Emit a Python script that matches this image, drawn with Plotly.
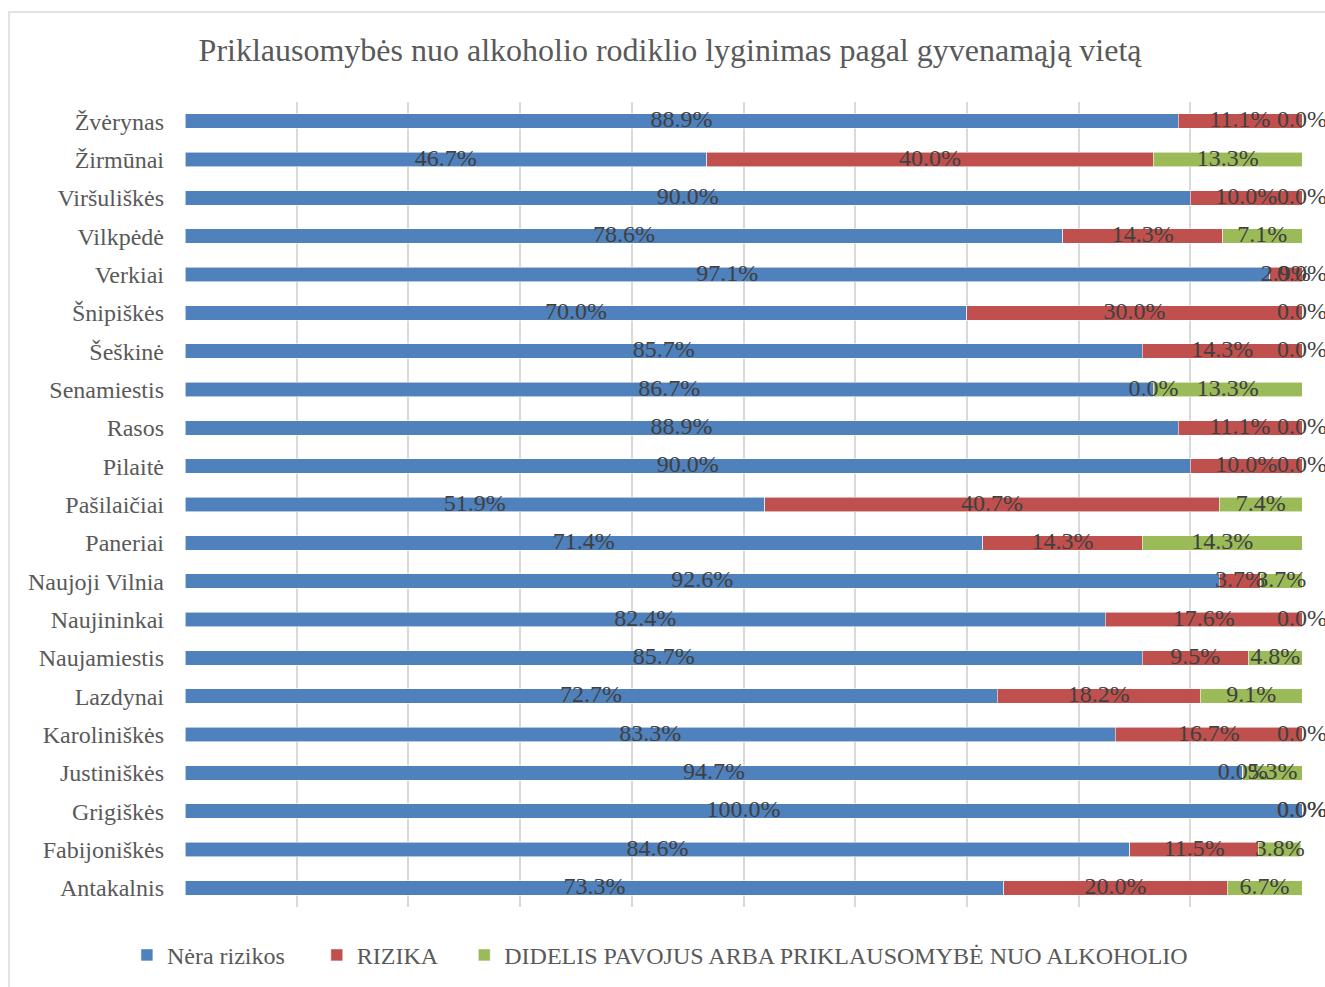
import plotly.graph_objects as go

categories = ["Žvėrynas", "Žirmūnai", "Viršuliškės", "Vilkpėdė", "Verkiai", "Šnipiškės",
              "Šeškinė", "Senamiestis", "Rasos", "Pilaitė", "Pašilaičiai", "Paneriai",
              "Naujoji Vilnia", "Naujininkai", "Naujamiestis", "Lazdynai", "Karoliniškės",
              "Justiniškės", "Grigiškės", "Fabijoniškės", "Antakalnis"]
nera_rizikos = [88.9, 46.7, 90.0, 78.6, 97.1, 70.0, 85.7, 86.7, 88.9, 90.0, 51.9, 71.4,
                92.6, 82.4, 85.7, 72.7, 83.3, 94.7, 100.0, 84.6, 73.3]
rizika = [11.1, 40.0, 10.0, 14.3, 2.9, 30.0, 14.3, 0.0, 11.1, 10.0, 40.7, 14.3,
          3.7, 17.6, 9.5, 18.2, 16.7, 0.0, 0.0, 11.5, 20.0]
didelis = [0.0, 13.3, 0.0, 7.1, 0.0, 0.0, 0.0, 13.3, 0.0, 0.0, 7.4, 14.3,
           3.7, 0.0, 4.8, 9.1, 0.0, 5.3, 0.0, 3.8, 6.7]
series_names = ["Nėra rizikos", "RIZIKA", "DIDELIS PAVOJUS ARBA PRIKLAUSOMYBĖ NUO ALKOHOLIO"]
title_text = "Priklausomybės nuo alkoholio rodiklio lyginimas pagal gyvenamąją vietą"

colors = ["#4F81BD", "#C0504D", "#9BBB59"]
FONT = "Liberation Serif, Times New Roman, serif"

series = [nera_rizikos, rizika, didelis]
legend_ids = ["legend", "legend2", "legend3"]
legend_x = [-0.052, 0.118, 0.250]

fig = go.Figure()
for name, vals, col, lid in zip(series_names, series, colors, legend_ids):
    fig.add_trace(go.Bar(
        y=categories, x=vals, orientation="h", name=name, legend=lid,
        marker=dict(color=col, line=dict(color="rgba(255,255,255,0.7)", width=0.8)),
        hoverinfo="skip",
    ))

base = [0.0] * len(categories)
for vals in series:
    centers = [b + v / 2 for b, v in zip(base, vals)]
    fig.add_trace(go.Scatter(
        x=centers, y=categories, mode="text",
        text=[f"{v:.1f}%" for v in vals],
        textposition="middle center",
        textfont=dict(family=FONT, size=24, color="#404040"),
        cliponaxis=False, showlegend=False, hoverinfo="skip",
    ))
    base = [b + v for b, v in zip(base, vals)]

legend_common = dict(orientation="h", xanchor="left", y=-0.060, yanchor="middle",
                     font=dict(family=FONT, size=24, color="#595959"),
                     bgcolor="rgba(0,0,0,0)")

fig.update_layout(
    barmode="stack",
    bargap=0.62,
    width=1325, height=987,
    margin=dict(l=185, r=23, t=102, b=80, autoexpand=False),
    paper_bgcolor="white",
    plot_bgcolor="white",
    font=dict(family=FONT, color="#595959", size=24),
    title=dict(text=title_text, x=0.5057, xref="container", xanchor="center",
               y=1 - 50 / 987, yref="container", yanchor="middle",
               font=dict(family=FONT, size=32, color="#595959")),
    legend=dict(x=legend_x[0], **legend_common),
    legend2=dict(x=legend_x[1], **legend_common),
    legend3=dict(x=legend_x[2], **legend_common),
    showlegend=True,
    shapes=[dict(type="rect", xref="paper", yref="paper",
                 x0=(9 - 185) / 1117, x1=(1340 - 185) / 1117,
                 y0=(907 - 1000) / 805, y1=(907 - 12) / 805,
                 line=dict(color="#D9D9D9", width=1.5), fillcolor="rgba(0,0,0,0)",
                 layer="below")],
)
fig.update_xaxes(range=[0, 100], dtick=10, tick0=0, showgrid=True, gridcolor="#D9D9D9",
                 gridwidth=1.5, showticklabels=False, zeroline=False, showline=False,
                 fixedrange=True)
fig.update_yaxes(categoryorder="array", categoryarray=categories,
                 range=[len(categories) - 0.5, -0.5], autorange=False,
                 showgrid=False, showline=False, zeroline=False,
                 tickfont=dict(family=FONT, size=24, color="#595959"),
                 ticklabelstandoff=20, fixedrange=True)

fig.write_html("out.html", config={"displayModeBar": False},
               post_script="document.body.style.margin='0px';")
